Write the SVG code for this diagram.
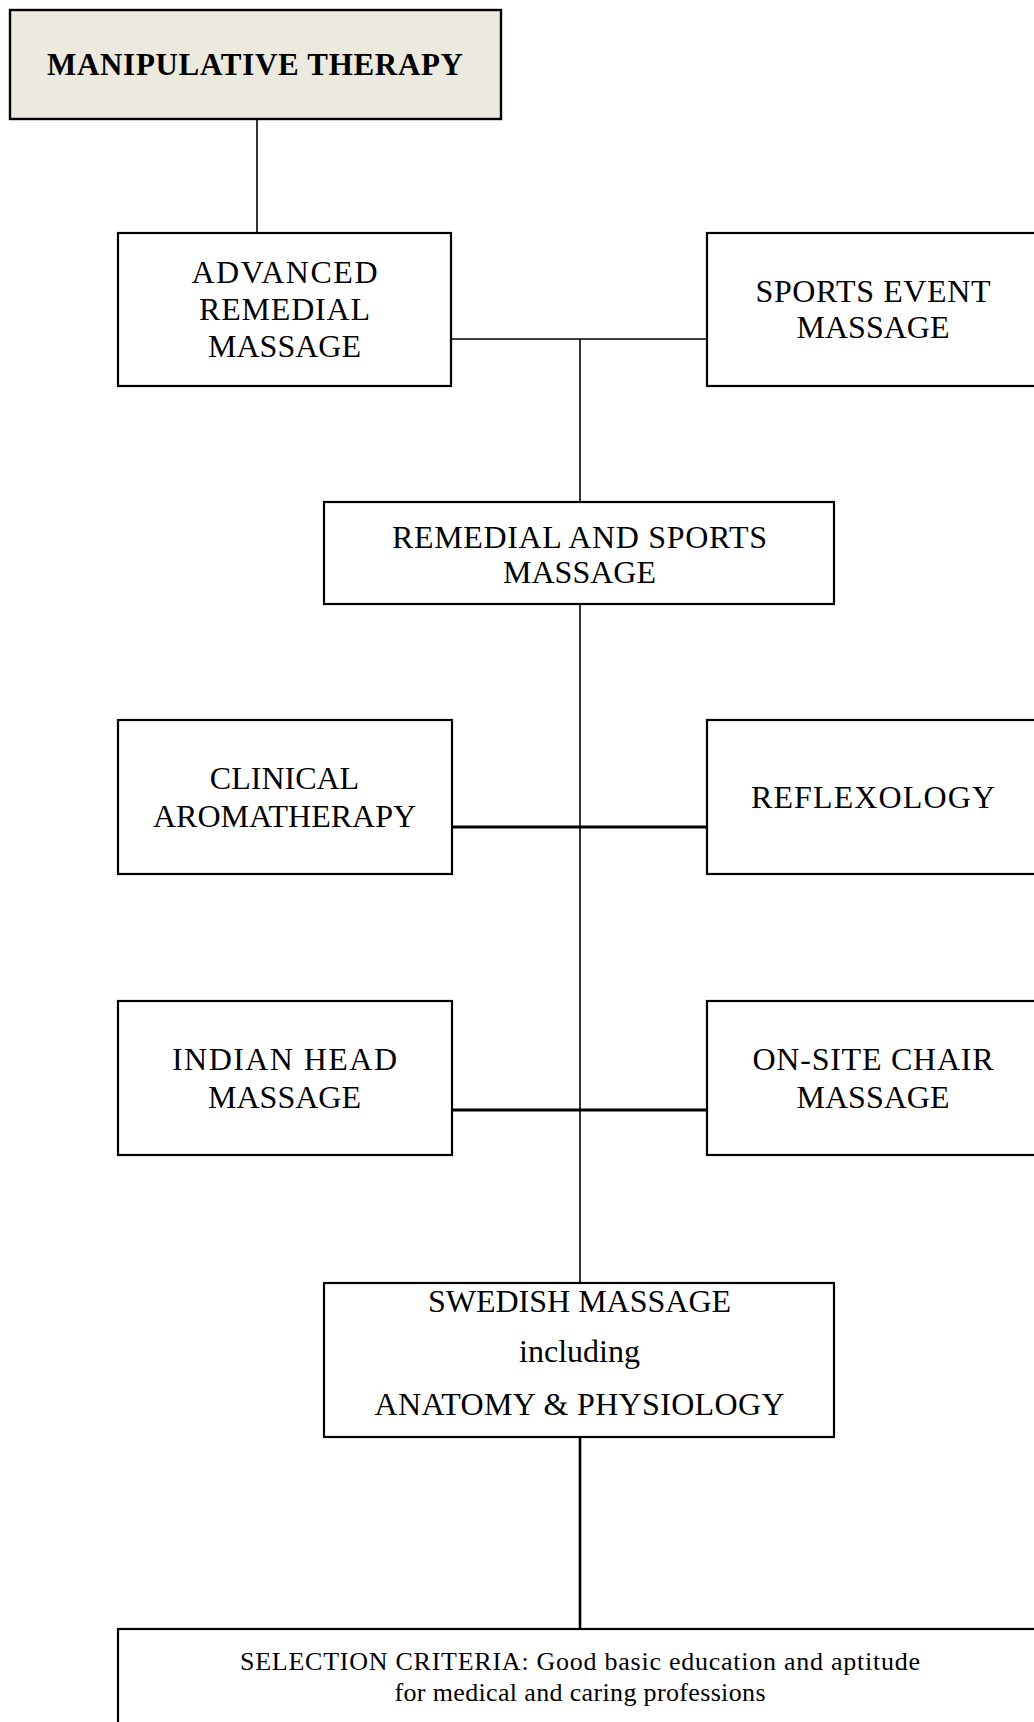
<svg xmlns="http://www.w3.org/2000/svg" width="1034" height="1722" viewBox="0 0 1034 1722">
<style>
.box{fill:#ffffff;stroke:#000000;stroke-width:2.2}
.t{font-family:"Liberation Serif","Times New Roman",serif;font-size:32px;fill:#000000;text-anchor:middle}
.title{font-size:31px;font-weight:bold}
.small{font-size:26px}
.c{stroke:#000000;fill:none}
</style>
<rect x="0" y="0" width="1034" height="1722" fill="#ffffff"/>
<g id="connectors">
<line class="c" x1="257" y1="119" x2="257" y2="233" stroke-width="1.6"/>
<line class="c" x1="451" y1="339" x2="707" y2="339" stroke-width="1.6"/>
<line class="c" x1="580" y1="339" x2="580" y2="502" stroke-width="1.6"/>
<line class="c" x1="580" y1="604" x2="580" y2="1283" stroke-width="1.6"/>
<line class="c" x1="452" y1="827" x2="707" y2="827" stroke-width="3"/>
<line class="c" x1="452" y1="1110" x2="707" y2="1110" stroke-width="3"/>
<line class="c" x1="580" y1="1437" x2="580" y2="1629" stroke-width="2.6"/>
</g>
<g id="manipulative-therapy">
<rect x="10" y="10" width="491" height="109" fill="#ECEADF" stroke="#000" stroke-width="2.4"/>
<text class="t title" x="255" y="75" textLength="416">MANIPULATIVE THERAPY</text>
</g>
<g id="advanced-remedial-massage">
<rect class="box" x="118" y="233" width="333" height="153"/>
<text class="t" x="284.5" y="283" textLength="186">ADVANCED</text>
<text class="t" x="284.5" y="320" textLength="171">REMEDIAL</text>
<text class="t" x="284.5" y="357">MASSAGE</text>
</g>
<g id="sports-event-massage">
<rect class="box" x="707" y="233" width="340" height="153"/>
<text class="t" x="873" y="302" textLength="235">SPORTS EVENT</text>
<text class="t" x="873" y="338">MASSAGE</text>
</g>
<g id="remedial-and-sports-massage">
<rect class="box" x="324" y="502" width="510" height="102" stroke-width="3"/>
<text class="t" x="579.5" y="548" textLength="375">REMEDIAL AND SPORTS</text>
<text class="t" x="579.5" y="583">MASSAGE</text>
</g>
<g id="clinical-aromatherapy">
<rect class="box" x="118" y="720" width="334" height="154"/>
<text class="t" x="284.5" y="789">CLINICAL</text>
<text class="t" x="284.5" y="827">AROMATHERAPY</text>
</g>
<g id="reflexology">
<rect class="box" x="707" y="720" width="340" height="154"/>
<text class="t" x="873" y="808" textLength="244">REFLEXOLOGY</text>
</g>
<g id="indian-head-massage">
<rect class="box" x="118" y="1001" width="334" height="154"/>
<text class="t" x="284.5" y="1070" textLength="225">INDIAN HEAD</text>
<text class="t" x="284.5" y="1108">MASSAGE</text>
</g>
<g id="on-site-chair-massage">
<rect class="box" x="707" y="1001" width="340" height="154"/>
<text class="t" x="873" y="1070" textLength="241">ON-SITE CHAIR</text>
<text class="t" x="873" y="1108">MASSAGE</text>
</g>
<g id="swedish-massage">
<rect class="box" x="324" y="1283" width="510" height="154" stroke-width="2.5"/>
<text class="t" x="579.5" y="1312">SWEDISH MASSAGE</text>
<text class="t" x="579.5" y="1362">including</text>
<text class="t" x="579.5" y="1415" textLength="410">ANATOMY &amp; PHYSIOLOGY</text>
</g>
<g id="selection-criteria">
<rect class="box" x="118" y="1629" width="930" height="110" stroke-width="3"/>
<text class="t small" x="580" y="1670" textLength="680">SELECTION CRITERIA: Good basic education and aptitude</text>
<text class="t small" x="580" y="1701" textLength="371">for medical and caring professions</text>
</g>
</svg>
